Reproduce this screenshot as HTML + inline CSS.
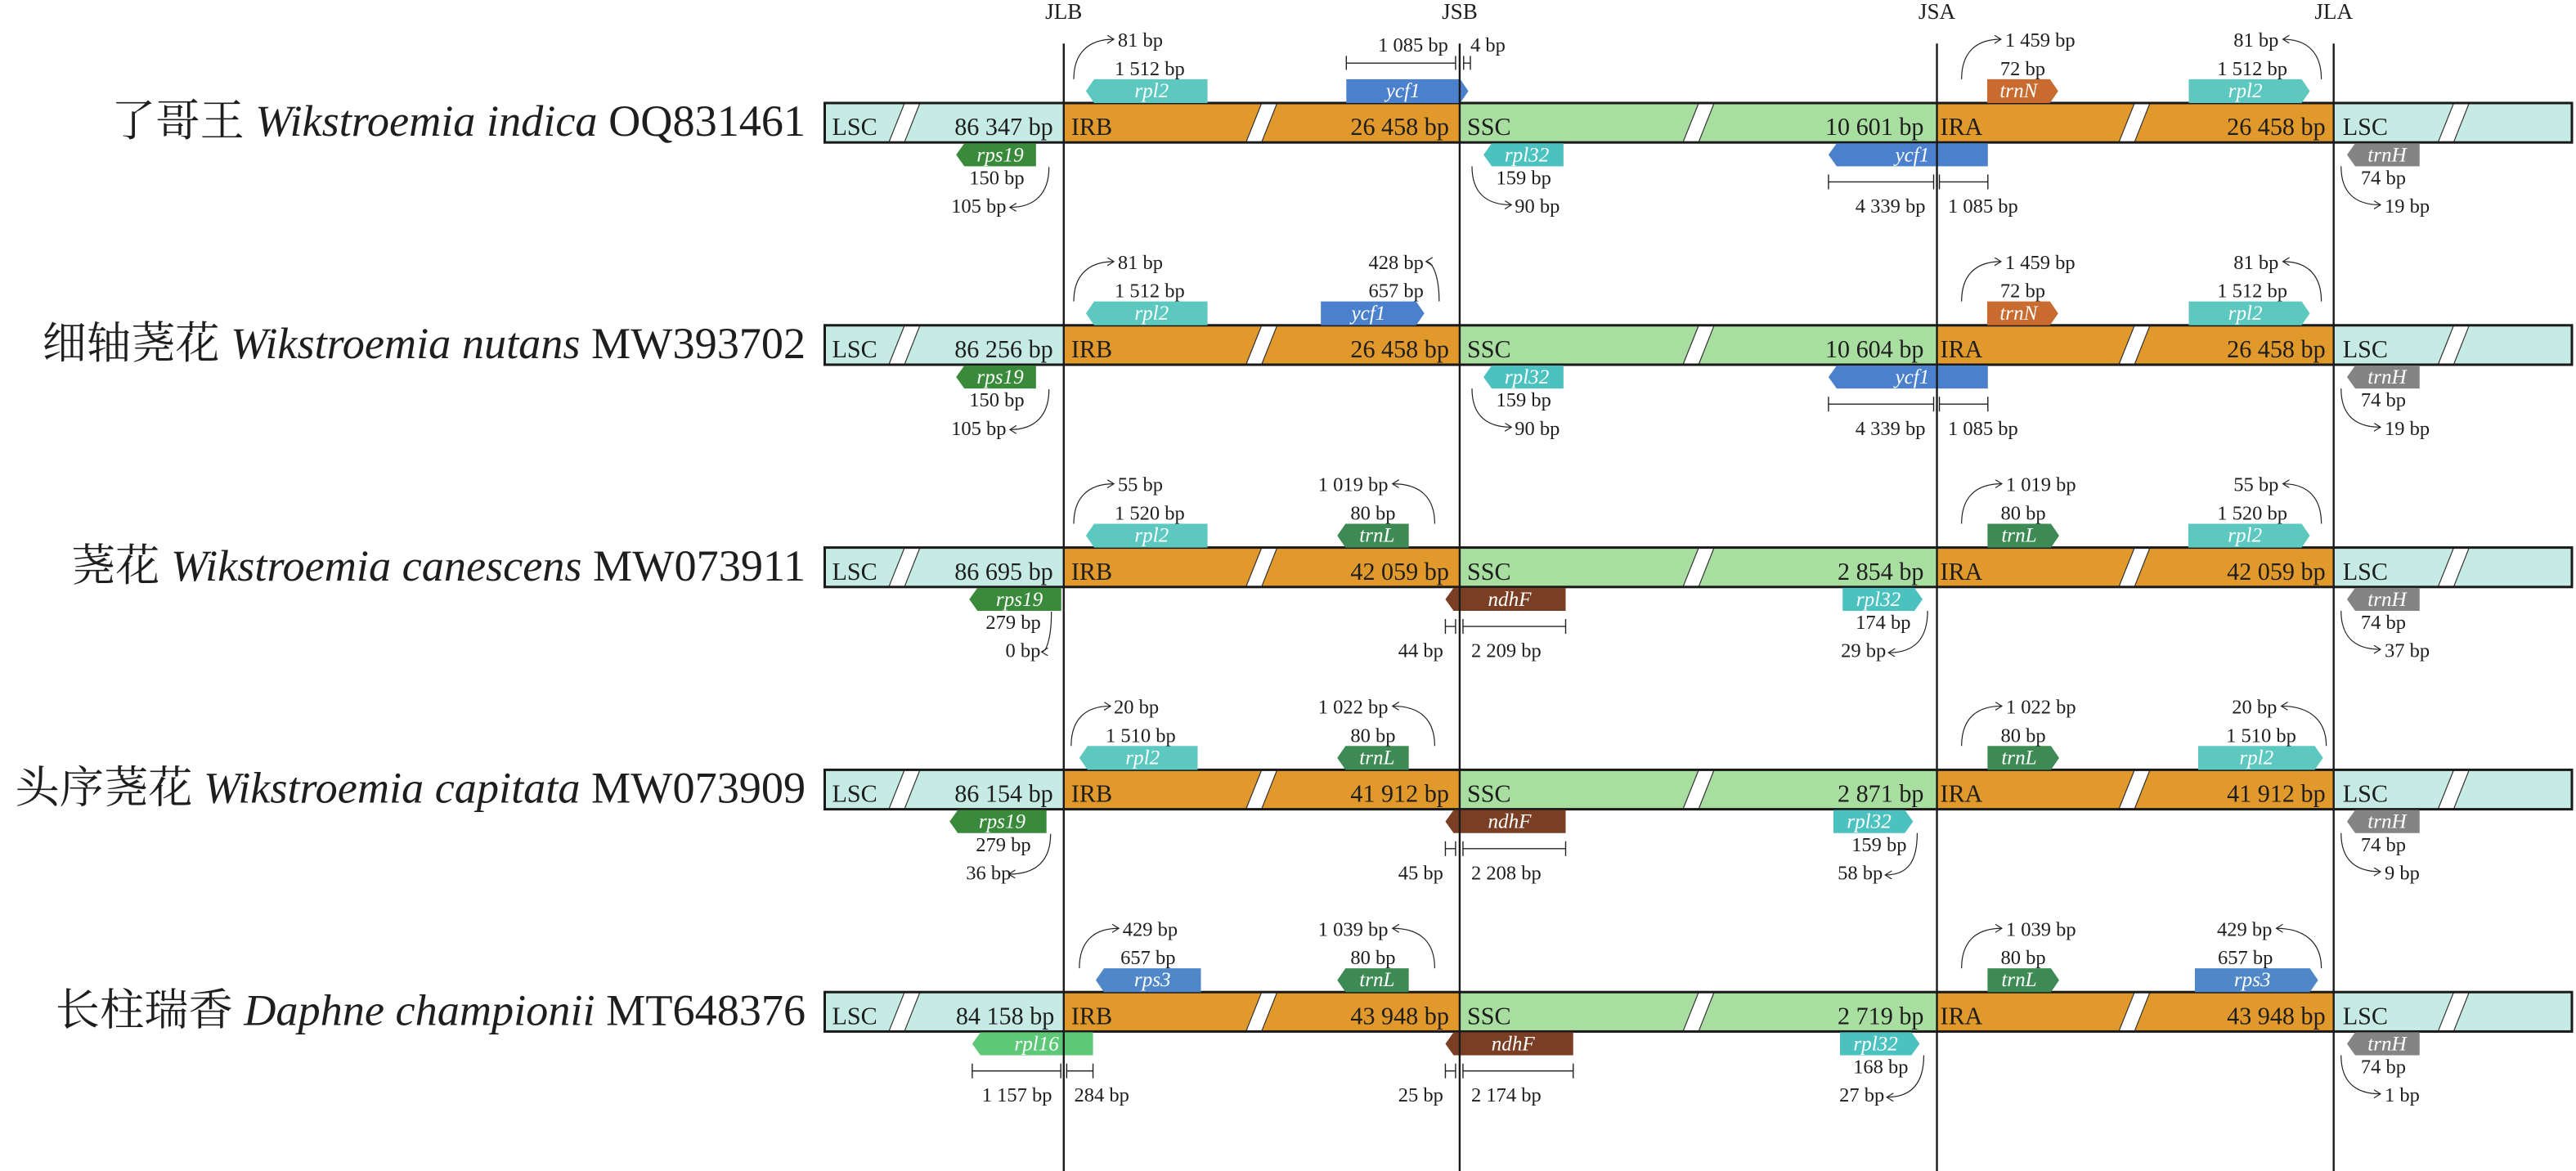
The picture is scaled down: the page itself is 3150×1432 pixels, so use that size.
<!DOCTYPE html>
<html><head><meta charset="utf-8"><style>
html,body{margin:0;padding:0;background:#fff}
svg{display:block}
text{font-family:"Liberation Serif","Noto Serif CJK SC",serif;fill:#1e1e1e}
.n{font-size:12.2px}
.b{font-size:15px}
.h{font-size:13.5px}
.g{font-size:12.5px;font-style:italic;fill:#fff}
.sp{font-size:27px}
.ln{fill:none;stroke:#222;stroke-width:0.6}
.br{fill:none;stroke:#222;stroke-width:0.7}
</style></head><body>
<svg width="3150" height="1432" viewBox="0 0 1568 712.8" xmlns="http://www.w3.org/2000/svg">
<defs>
<marker id="ah" markerWidth="6" markerHeight="6" refX="4" refY="2.5" orient="auto" markerUnits="userSpaceOnUse">
<path d="M0,0 L4,2.5 L0,5" fill="none" stroke="#222" stroke-width="0.6"/>
</marker>
<g id="bar">
<rect x="502" y="0" width="145.5" height="24" fill="#c6ebe4"/>
<rect x="647.5" y="0" width="241" height="24" fill="#e0992a"/>
<rect x="888.5" y="0" width="290.5" height="24" fill="#a8dea0"/>
<rect x="1179" y="0" width="241.5" height="24" fill="#e0992a"/>
<rect x="1420.5" y="0" width="145" height="24" fill="#c6ebe4"/>
<g fill="#fff" stroke="#333" stroke-width="0.6">
<path d="M541,24 L550.6,0 L560,0 L550.5,24Z"/>
<path d="M758.4,24 L768,0 L777.4,0 L767.9,24Z"/>
<path d="M1024.4,24 L1034,0 L1043.4,0 L1033.9,24Z"/>
<path d="M1289.7,24 L1299.3,0 L1308.7,0 L1299.2,24Z"/>
<path d="M1484,24 L1493.6,0 L1503,0 L1493.5,24Z"/>
</g>
<rect x="502" y="0" width="1063.5" height="24" fill="none" stroke="#1a1a1a" stroke-width="1.5"/>
<text class="b" x="506.5" y="19.5">LSC</text>
<text class="b" x="652" y="19.5">IRB</text>
<text class="b" x="893" y="19.5">SSC</text>
<text class="b" x="1181" y="19.5">IRA</text>
<text class="b" x="1426" y="19.5">LSC</text>
</g>
</defs>

<text class="h" x="647.5" y="11.5" text-anchor="middle">JLB</text>
<text class="h" x="888.5" y="11.5" text-anchor="middle">JSB</text>
<text class="h" x="1179" y="11.5" text-anchor="middle">JSA</text>
<text class="h" x="1420.5" y="11.5" text-anchor="middle">JLA</text>

<!-- ROW 1 -->
<g transform="translate(0,62.7)">
<use href="#bar"/>
<text class="b" x="641" y="19.5" text-anchor="end">86 347 bp</text>
<text class="b" x="882" y="19.5" text-anchor="end">26 458 bp</text>
<text class="b" x="1171" y="19.5" text-anchor="end">10 601 bp</text>
<text class="b" x="1415.5" y="19.5" text-anchor="end">26 458 bp</text>
<text class="sp" x="490.4" y="20" text-anchor="end">了哥王 <tspan font-style="italic">Wikstroemia indica</tspan> OQ831461</text>
<path d="M661,-7.25 L666,-14.5 L735,-14.5 L735,0 L666,0Z" fill="#5cc8c0"/><text class="g" x="701" y="-3.5" text-anchor="middle">rpl2</text>
<text class="n" x="678.5" y="-17">1 512 bp</text><text class="n" x="680.4" y="-34.3">81 bp</text>
<path class="ln" d="M653.6,-14.5 C653.6,-30 662,-38.8 678,-38.8" marker-end="url(#ah)"/>
<path d="M819.5,-14.5 L888.8,-14.5 L893.8,-7.25 L888.8,0 L819.5,0Z" fill="#4a80cc"/><text class="g" x="854" y="-3.5" text-anchor="middle">ycf1</text>
<path class="br" d="M819.5,-24.3 H886 M819.5,-28.7 V-20.2 M886,-28.7 V-20.2 M890.9,-24.3 H895 M890.9,-28.7 V-20.2 M895,-28.7 V-20.2"/>
<text class="n" x="881.5" y="-31.3" text-anchor="end">1 085 bp</text><text class="n" x="895" y="-31.3">4 bp</text>
<path d="M1209.6,-14.5 L1247.8,-14.5 L1252.8,-7.25 L1247.8,0 L1209.6,0Z" fill="#c96a2e"/><text class="g" x="1228.7" y="-3.5" text-anchor="middle">trnN</text>
<text class="n" x="1217.5" y="-17">72 bp</text><text class="n" x="1220.5" y="-34.3">1 459 bp</text>
<path class="ln" d="M1194,-14.5 C1194,-30 1202,-38.8 1218,-38.8" marker-end="url(#ah)"/>
<path d="M1332.3,-14.5 L1401,-14.5 L1406,-7.25 L1401,0 L1332.3,0Z" fill="#5cc8c0"/><text class="g" x="1366.7" y="-3.5" text-anchor="middle">rpl2</text>
<text class="n" x="1349.6" y="-17">1 512 bp</text><text class="n" x="1387" y="-34.3" text-anchor="end">81 bp</text>
<path class="ln" d="M1413,-14.5 C1413,-30 1405,-38.8 1389.6,-38.8" marker-end="url(#ah)"/>
<path d="M582,31.5 L587,24.5 L630.6,24.5 L630.6,38.5 L587,38.5Z" fill="#3a8a3c"/><text class="g" x="608.8" y="35.5" text-anchor="middle">rps19</text>
<text class="n" x="590" y="49.5">150 bp</text><text class="n" x="579" y="66.7">105 bp</text>
<path class="ln" d="M638.5,39 C638.5,55 630,63.5 614.7,63.5" marker-end="url(#ah)"/>
<path d="M903,31.5 L908,24.5 L951.7,24.5 L951.7,38.5 L908,38.5Z" fill="#4cc2c0"/><text class="g" x="929.4" y="35.5" text-anchor="middle">rpl32</text>
<text class="n" x="910.7" y="49.5">159 bp</text><text class="n" x="922" y="66.7">90 bp</text>
<path class="ln" d="M896,38.5 C896,54 904,62 920,62" marker-end="url(#ah)"/>
<path d="M1113,31.5 L1118,24.5 L1210,24.5 L1210,38.5 L1118,38.5Z" fill="#4a80cc"/><text class="g" x="1164" y="35.5" text-anchor="middle">ycf1</text>
<path class="br" d="M1113,48 H1177 M1113,43.5 V52.5 M1177,43.5 V52.5 M1180.5,48 H1210 M1180.5,43.5 V52.5 M1210,43.5 V52.5"/>
<text class="n" x="1172" y="66.7" text-anchor="end">4 339 bp</text><text class="n" x="1185.7" y="66.7">1 085 bp</text>
<path d="M1428.6,31.5 L1433.6,24.5 L1472.8,24.5 L1472.8,38.5 L1433.6,38.5Z" fill="#848484"/><text class="g" x="1453" y="35.5" text-anchor="middle">trnH</text>
<text class="n" x="1437" y="49.5">74 bp</text><text class="n" x="1451.5" y="66.7">19 bp</text>
<path class="ln" d="M1425,38.5 C1425,54 1433,62 1449,62" marker-end="url(#ah)"/>
</g>

<!-- ROW 2 -->
<g transform="translate(0,198)">
<use href="#bar"/>
<text class="b" x="641" y="19.5" text-anchor="end">86 256 bp</text>
<text class="b" x="882" y="19.5" text-anchor="end">26 458 bp</text>
<text class="b" x="1171" y="19.5" text-anchor="end">10 604 bp</text>
<text class="b" x="1415.5" y="19.5" text-anchor="end">26 458 bp</text>
<text class="sp" x="490.4" y="20" text-anchor="end">细轴荛花 <tspan font-style="italic">Wikstroemia nutans</tspan> MW393702</text>
<path d="M661,-7.25 L666,-14.5 L735,-14.5 L735,0 L666,0Z" fill="#5cc8c0"/><text class="g" x="701" y="-3.5" text-anchor="middle">rpl2</text>
<text class="n" x="678.5" y="-17">1 512 bp</text><text class="n" x="680.4" y="-34.3">81 bp</text>
<path class="ln" d="M653.6,-14.5 C653.6,-30 662,-38.8 678,-38.8" marker-end="url(#ah)"/>
<path d="M804,-14.5 L862,-14.5 L867,-7.25 L862,0 L804,0Z" fill="#4a80cc"/><text class="g" x="833" y="-3.5" text-anchor="middle">ycf1</text>
<text class="n" x="833" y="-17">657 bp</text><text class="n" x="833" y="-34.3">428 bp</text>
<path class="ln" d="M876,-14.5 C876,-30 872,-38.8 868,-38.8" marker-end="url(#ah)"/>
<path d="M1209.6,-14.5 L1247.8,-14.5 L1252.8,-7.25 L1247.8,0 L1209.6,0Z" fill="#c96a2e"/><text class="g" x="1228.7" y="-3.5" text-anchor="middle">trnN</text>
<text class="n" x="1217.5" y="-17">72 bp</text><text class="n" x="1220.5" y="-34.3">1 459 bp</text>
<path class="ln" d="M1194,-14.5 C1194,-30 1202,-38.8 1218,-38.8" marker-end="url(#ah)"/>
<path d="M1332.3,-14.5 L1401,-14.5 L1406,-7.25 L1401,0 L1332.3,0Z" fill="#5cc8c0"/><text class="g" x="1366.7" y="-3.5" text-anchor="middle">rpl2</text>
<text class="n" x="1349.6" y="-17">1 512 bp</text><text class="n" x="1387" y="-34.3" text-anchor="end">81 bp</text>
<path class="ln" d="M1413,-14.5 C1413,-30 1405,-38.8 1389.6,-38.8" marker-end="url(#ah)"/>
<path d="M582,31.5 L587,24.5 L630.6,24.5 L630.6,38.5 L587,38.5Z" fill="#3a8a3c"/><text class="g" x="608.8" y="35.5" text-anchor="middle">rps19</text>
<text class="n" x="590" y="49.5">150 bp</text><text class="n" x="579" y="66.7">105 bp</text>
<path class="ln" d="M638.5,39 C638.5,55 630,63.5 614.7,63.5" marker-end="url(#ah)"/>
<path d="M903,31.5 L908,24.5 L951.7,24.5 L951.7,38.5 L908,38.5Z" fill="#4cc2c0"/><text class="g" x="929.4" y="35.5" text-anchor="middle">rpl32</text>
<text class="n" x="910.7" y="49.5">159 bp</text><text class="n" x="922" y="66.7">90 bp</text>
<path class="ln" d="M896,38.5 C896,54 904,62 920,62" marker-end="url(#ah)"/>
<path d="M1113,31.5 L1118,24.5 L1210,24.5 L1210,38.5 L1118,38.5Z" fill="#4a80cc"/><text class="g" x="1164" y="35.5" text-anchor="middle">ycf1</text>
<path class="br" d="M1113,48 H1177 M1113,43.5 V52.5 M1177,43.5 V52.5 M1180.5,48 H1210 M1180.5,43.5 V52.5 M1210,43.5 V52.5"/>
<text class="n" x="1172" y="66.7" text-anchor="end">4 339 bp</text><text class="n" x="1185.7" y="66.7">1 085 bp</text>
<path d="M1428.6,31.5 L1433.6,24.5 L1472.8,24.5 L1472.8,38.5 L1433.6,38.5Z" fill="#848484"/><text class="g" x="1453" y="35.5" text-anchor="middle">trnH</text>
<text class="n" x="1437" y="49.5">74 bp</text><text class="n" x="1451.5" y="66.7">19 bp</text>
<path class="ln" d="M1425,38.5 C1425,54 1433,62 1449,62" marker-end="url(#ah)"/>
</g>

<!-- ROW 3 -->
<g transform="translate(0,333.3)">
<use href="#bar"/>
<text class="b" x="641" y="19.5" text-anchor="end">86 695 bp</text>
<text class="b" x="882" y="19.5" text-anchor="end">42 059 bp</text>
<text class="b" x="1171" y="19.5" text-anchor="end">2 854 bp</text>
<text class="b" x="1415.5" y="19.5" text-anchor="end">42 059 bp</text>
<text class="sp" x="490.4" y="20" text-anchor="end">荛花 <tspan font-style="italic">Wikstroemia canescens</tspan> MW073911</text>
<path d="M661,-7.25 L666,-14.5 L735,-14.5 L735,0 L666,0Z" fill="#5cc8c0"/><text class="g" x="701" y="-3.5" text-anchor="middle">rpl2</text>
<text class="n" x="678.5" y="-17">1 520 bp</text><text class="n" x="680.4" y="-34.3">55 bp</text>
<path class="ln" d="M653.6,-14.5 C653.6,-30 662,-38.8 678,-38.8" marker-end="url(#ah)"/>
<path d="M814,-7.25 L819,-14.5 L857.5,-14.5 L857.5,0 L819,0Z" fill="#3d8a55"/><text class="g" x="838.2" y="-3.5" text-anchor="middle">trnL</text>
<text class="n" x="822" y="-17">80 bp</text><text class="n" x="845" y="-34.3" text-anchor="end">1 019 bp</text>
<path class="ln" d="M873.3,-14.5 C873.3,-30 865,-38.8 847.6,-38.8" marker-end="url(#ah)"/>
<path d="M1209.8,-14.5 L1248.4,-14.5 L1253.4,-7.25 L1248.4,0 L1209.8,0Z" fill="#3d8a55"/><text class="g" x="1229" y="-3.5" text-anchor="middle">trnL</text>
<text class="n" x="1217.8" y="-17">80 bp</text><text class="n" x="1221" y="-34.3">1 019 bp</text>
<path class="ln" d="M1194,-14.5 C1194,-30 1202,-38.8 1218.5,-38.8" marker-end="url(#ah)"/>
<path d="M1332,-14.5 L1401,-14.5 L1406,-7.25 L1401,0 L1332,0Z" fill="#5cc8c0"/><text class="g" x="1366.5" y="-3.5" text-anchor="middle">rpl2</text>
<text class="n" x="1349.6" y="-17">1 520 bp</text><text class="n" x="1387" y="-34.3" text-anchor="end">55 bp</text>
<path class="ln" d="M1413,-14.5 C1413,-30 1405,-38.8 1389.6,-38.8" marker-end="url(#ah)"/>
<path d="M590,31.5 L595,24.5 L646,24.5 L646,38.5 L595,38.5Z" fill="#3a8a3c"/><text class="g" x="620.5" y="35.5" text-anchor="middle">rps19</text>
<text class="n" x="600" y="49.5">279 bp</text><text class="n" x="612" y="66.7">0 bp</text>
<path class="ln" d="M640,39 C640,55 637,63.5 634,63.5" marker-end="url(#ah)"/>
<path d="M879.8,31.5 L884.8,24.5 L953,24.5 L953,38.5 L884.8,38.5Z" fill="#7a3e24"/><text class="g" x="918.9" y="35.5" text-anchor="middle">ndhF</text>
<path class="br" d="M879.8,48 H886 M879.8,43.5 V52.5 M886,43.5 V52.5 M890.5,48 H953 M890.5,43.5 V52.5 M953,43.5 V52.5"/>
<text class="n" x="878.5" y="66.7" text-anchor="end">44 bp</text><text class="n" x="895.5" y="66.7">2 209 bp</text>
<path d="M1121.6,24.5 L1165.3,24.5 L1170.3,31.5 L1165.3,38.5 L1121.6,38.5Z" fill="#4cc2c0"/><text class="g" x="1143.4" y="35.5" text-anchor="middle">rpl32</text>
<text class="n" x="1129.5" y="49.5">174 bp</text><text class="n" x="1148" y="66.7" text-anchor="end">29 bp</text>
<path class="ln" d="M1173.3,38.5 C1173.3,55 1166,64 1149.5,64" marker-end="url(#ah)"/>
<path d="M1428.6,31.5 L1433.6,24.5 L1472.8,24.5 L1472.8,38.5 L1433.6,38.5Z" fill="#848484"/><text class="g" x="1453" y="35.5" text-anchor="middle">trnH</text>
<text class="n" x="1437" y="49.5">74 bp</text><text class="n" x="1451.5" y="66.7">37 bp</text>
<path class="ln" d="M1425,38.5 C1425,54 1433,62 1449,62" marker-end="url(#ah)"/>
</g>

<!-- ROW 4 -->
<g transform="translate(0,468.6)">
<use href="#bar"/>
<text class="b" x="641" y="19.5" text-anchor="end">86 154 bp</text>
<text class="b" x="882" y="19.5" text-anchor="end">41 912 bp</text>
<text class="b" x="1171" y="19.5" text-anchor="end">2 871 bp</text>
<text class="b" x="1415.5" y="19.5" text-anchor="end">41 912 bp</text>
<text class="sp" x="490.4" y="20" text-anchor="end">头序荛花 <tspan font-style="italic">Wikstroemia capitata</tspan> MW073909</text>
<path d="M657,-7.25 L662,-14.5 L729,-14.5 L729,0 L662,0Z" fill="#5cc8c0"/><text class="g" x="695.5" y="-3.5" text-anchor="middle">rpl2</text>
<text class="n" x="673" y="-17">1 510 bp</text><text class="n" x="678" y="-34.3">20 bp</text>
<path class="ln" d="M652,-14.5 C652,-30 660,-38.8 676,-38.8" marker-end="url(#ah)"/>
<path d="M814,-7.25 L819,-14.5 L857.5,-14.5 L857.5,0 L819,0Z" fill="#3d8a55"/><text class="g" x="838.2" y="-3.5" text-anchor="middle">trnL</text>
<text class="n" x="822" y="-17">80 bp</text><text class="n" x="845" y="-34.3" text-anchor="end">1 022 bp</text>
<path class="ln" d="M873.3,-14.5 C873.3,-30 865,-38.8 847.6,-38.8" marker-end="url(#ah)"/>
<path d="M1209.8,-14.5 L1248.4,-14.5 L1253.4,-7.25 L1248.4,0 L1209.8,0Z" fill="#3d8a55"/><text class="g" x="1229" y="-3.5" text-anchor="middle">trnL</text>
<text class="n" x="1217.8" y="-17">80 bp</text><text class="n" x="1221" y="-34.3">1 022 bp</text>
<path class="ln" d="M1194,-14.5 C1194,-30 1202,-38.8 1218.5,-38.8" marker-end="url(#ah)"/>
<path d="M1338,-14.5 L1409,-14.5 L1414,-7.25 L1409,0 L1338,0Z" fill="#5cc8c0"/><text class="g" x="1373.5" y="-3.5" text-anchor="middle">rpl2</text>
<text class="n" x="1355" y="-17">1 510 bp</text><text class="n" x="1386" y="-34.3" text-anchor="end">20 bp</text>
<path class="ln" d="M1416,-14.5 C1416,-30 1406,-38.8 1388.6,-38.8" marker-end="url(#ah)"/>
<path d="M578,31.5 L583,24.5 L637,24.5 L637,38.5 L583,38.5Z" fill="#3a8a3c"/><text class="g" x="610" y="35.5" text-anchor="middle">rps19</text>
<text class="n" x="594" y="49.5">279 bp</text><text class="n" x="588" y="66.7">36 bp</text>
<path class="ln" d="M639.5,39 C639.5,55 631,63.5 614,63.5" marker-end="url(#ah)"/>
<path d="M879.8,31.5 L884.8,24.5 L953,24.5 L953,38.5 L884.8,38.5Z" fill="#7a3e24"/><text class="g" x="918.9" y="35.5" text-anchor="middle">ndhF</text>
<path class="br" d="M879.8,48 H886 M879.8,43.5 V52.5 M886,43.5 V52.5 M890.5,48 H953 M890.5,43.5 V52.5 M953,43.5 V52.5"/>
<text class="n" x="878.5" y="66.7" text-anchor="end">45 bp</text><text class="n" x="895.5" y="66.7">2 208 bp</text>
<path d="M1116,24.5 L1159.5,24.5 L1164.5,31.5 L1159.5,38.5 L1116,38.5Z" fill="#4cc2c0"/><text class="g" x="1137.7" y="35.5" text-anchor="middle">rpl32</text>
<text class="n" x="1127" y="49.5">159 bp</text><text class="n" x="1146" y="66.7" text-anchor="end">58 bp</text>
<path class="ln" d="M1167,38.5 C1167,55 1162,64 1147.5,64" marker-end="url(#ah)"/>
<path d="M1428.6,31.5 L1433.6,24.5 L1472.8,24.5 L1472.8,38.5 L1433.6,38.5Z" fill="#848484"/><text class="g" x="1453" y="35.5" text-anchor="middle">trnH</text>
<text class="n" x="1437" y="49.5">74 bp</text><text class="n" x="1451.5" y="66.7">9 bp</text>
<path class="ln" d="M1425,38.5 C1425,54 1433,62 1449,62" marker-end="url(#ah)"/>
</g>

<!-- ROW 5 -->
<g transform="translate(0,603.9)">
<use href="#bar"/>
<text class="b" x="641.8" y="19.5" text-anchor="end">84 158 bp</text>
<text class="b" x="882" y="19.5" text-anchor="end">43 948 bp</text>
<text class="b" x="1171" y="19.5" text-anchor="end">2 719 bp</text>
<text class="b" x="1415.5" y="19.5" text-anchor="end">43 948 bp</text>
<text class="sp" x="490.4" y="20" text-anchor="end">长柱瑞香 <tspan font-style="italic">Daphne championii</tspan> MT648376</text>
<path d="M667,-7.25 L672,-14.5 L731,-14.5 L731,0 L672,0Z" fill="#5087c8"/><text class="g" x="701.5" y="-3.5" text-anchor="middle">rps3</text>
<text class="n" x="682" y="-17">657 bp</text><text class="n" x="683.3" y="-34.3">429 bp</text>
<path class="ln" d="M657,-14.5 C657,-30 665,-38.8 681,-38.8" marker-end="url(#ah)"/>
<path d="M814,-7.25 L819,-14.5 L857.5,-14.5 L857.5,0 L819,0Z" fill="#3d8a55"/><text class="g" x="838.2" y="-3.5" text-anchor="middle">trnL</text>
<text class="n" x="822" y="-17">80 bp</text><text class="n" x="845" y="-34.3" text-anchor="end">1 039 bp</text>
<path class="ln" d="M873.3,-14.5 C873.3,-30 865,-38.8 847.6,-38.8" marker-end="url(#ah)"/>
<path d="M1209.8,-14.5 L1248.4,-14.5 L1253.4,-7.25 L1248.4,0 L1209.8,0Z" fill="#3d8a55"/><text class="g" x="1229" y="-3.5" text-anchor="middle">trnL</text>
<text class="n" x="1217.8" y="-17">80 bp</text><text class="n" x="1221" y="-34.3">1 039 bp</text>
<path class="ln" d="M1194,-14.5 C1194,-30 1202,-38.8 1218.5,-38.8" marker-end="url(#ah)"/>
<path d="M1336,-14.5 L1406,-14.5 L1411,-7.25 L1406,0 L1336,0Z" fill="#5087c8"/><text class="g" x="1371" y="-3.5" text-anchor="middle">rps3</text>
<text class="n" x="1350" y="-17">657 bp</text><text class="n" x="1383" y="-34.3" text-anchor="end">429 bp</text>
<path class="ln" d="M1413,-14.5 C1413,-30 1403,-38.8 1385.6,-38.8" marker-end="url(#ah)"/>
<path d="M591.8,31.5 L596.8,24.5 L665.3,24.5 L665.3,38.5 L596.8,38.5Z" fill="#5cc878"/><text class="g" x="631" y="35.5" text-anchor="middle">rpl16</text>
<path class="br" d="M591.8,48 H645.7 M591.8,43.5 V52.5 M645.7,43.5 V52.5 M649.3,48 H665.3 M649.3,43.5 V52.5 M665.3,43.5 V52.5"/>
<text class="n" x="640.4" y="66.7" text-anchor="end">1 157 bp</text><text class="n" x="653.8" y="66.7">284 bp</text>
<path d="M879.8,31.5 L884.8,24.5 L957.6,24.5 L957.6,38.5 L884.8,38.5Z" fill="#7a3e24"/><text class="g" x="921" y="35.5" text-anchor="middle">ndhF</text>
<path class="br" d="M879.8,48 H886 M879.8,43.5 V52.5 M886,43.5 V52.5 M890.5,48 H957.6 M890.5,43.5 V52.5 M957.6,43.5 V52.5"/>
<text class="n" x="878.5" y="66.7" text-anchor="end">25 bp</text><text class="n" x="895.5" y="66.7">2 174 bp</text>
<path d="M1120,24.5 L1163.5,24.5 L1168.5,31.5 L1163.5,38.5 L1120,38.5Z" fill="#4cc2c0"/><text class="g" x="1141.7" y="35.5" text-anchor="middle">rpl32</text>
<text class="n" x="1128" y="49.5">168 bp</text><text class="n" x="1147" y="66.7" text-anchor="end">27 bp</text>
<path class="ln" d="M1171,38.5 C1171,55 1164,64 1148.5,64" marker-end="url(#ah)"/>
<path d="M1428.6,31.5 L1433.6,24.5 L1472.8,24.5 L1472.8,38.5 L1433.6,38.5Z" fill="#848484"/><text class="g" x="1453" y="35.5" text-anchor="middle">trnH</text>
<text class="n" x="1437" y="49.5">74 bp</text><text class="n" x="1451.5" y="66.7">1 bp</text>
<path class="ln" d="M1425,38.5 C1425,54 1433,62 1449,62" marker-end="url(#ah)"/>
</g>

<g stroke="#1a1a1a" stroke-width="1.2">
<line x1="647.5" y1="26.5" x2="647.5" y2="712.8"/>
<line x1="888.5" y1="26.5" x2="888.5" y2="712.8"/>
<line x1="1179" y1="26.5" x2="1179" y2="712.8"/>
<line x1="1420.5" y1="26.5" x2="1420.5" y2="712.8"/>
</g>
</svg>
</body></html>
